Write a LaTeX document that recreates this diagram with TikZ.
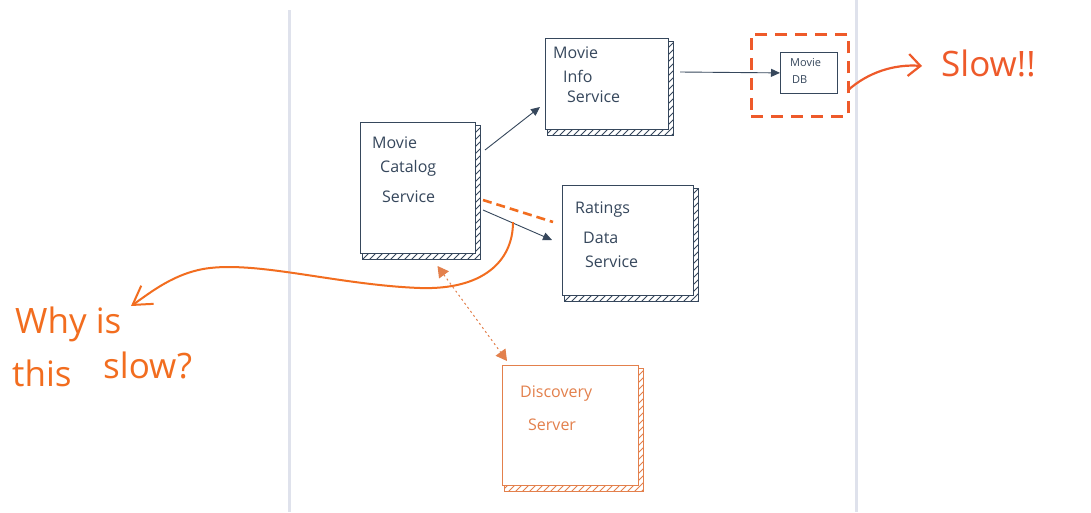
\documentclass[tikz,border=0pt]{standalone}
\usepackage{fontspec}
\setmainfont{Open Sans}
\usetikzlibrary{arrows.meta}
\definecolor{ink}{HTML}{36475C}
\definecolor{org}{HTML}{F26D1F}
\definecolor{orgred}{HTML}{EE5A2A}
\definecolor{orglt}{HTML}{E3804C}
\definecolor{page}{HTML}{DFE2EC}
\tikzset{
  lbl/.style={anchor=base west, inner sep=0pt, text=ink, font=\fontsize{16}{16}\selectfont},
  smalllbl/.style={anchor=base west, inner sep=0pt, text=ink, font=\fontsize{11}{11}\selectfont},
  handlbl/.style={anchor=base west, inner sep=0pt, text=org, font=\fontsize{35}{35}\selectfont},
  inkarrow/.style={ink, line width=0.9pt, -{Triangle[length=9pt,width=8pt]}},
}
% name, x, y, w, h, colour
\newcommand\servicebox[6]{%
  \node[draw=#6, line width=0.9pt, inner sep=0pt, outer sep=0pt,
        minimum width=#4pt, minimum height=#5pt, anchor=north west] (#1) at (#2,#3) {};
  \begin{scope}
    \clip (#2+#4,#3+3) -- (#2+#4+5,#3+3) -- (#2+#4+5,#3+#5+6) -- (#2+2,#3+#5+6)
          -- (#2+2,#3+#5) -- (#2+#4,#3+#5) -- cycle;
    \pgfmathtruncatemacro\hatchn{(#4+#5+30)/7}
    \foreach \k in {0,...,\hatchn}{
      \draw[#6, line width=0.8pt] (#2-#5-10+7*\k,#3+#5+10) -- ++(#5+20,-#5-20);
    }
  \end{scope}
  \draw[#6, line width=0.9pt] (#2+#4,#3+3) -- (#2+#4+5,#3+3) -- (#2+#4+5,#3+#5+6)
        -- (#2+2,#3+#5+6) -- (#2+2,#3+#5);
}
\begin{document}
\begin{tikzpicture}[x=1pt, y=-1pt]
\useasboundingbox (0,0) rectangle (1091,512);
\fill[white] (0,0) rectangle (1091,512);
% page edges
\draw[page, line width=3pt] (289,10) -- (289,512);
\draw[page, line width=3pt] (856,0) -- (856,512);

% boxes
\servicebox{cat}{360}{122}{115}{131}{ink}
\servicebox{info}{545}{38}{123}{91}{ink}
\servicebox{rat}{562}{185}{131}{110}{ink}
\servicebox{disc}{502}{365}{136}{120}{orglt}
\node[draw=ink, line width=0.8pt, inner sep=0pt, minimum width=57pt, minimum height=41pt,
      anchor=north west] (db) at (780,52) {};
\node[draw=orgred, line width=2.6pt, dash pattern=on 12pt off 8pt, inner sep=0pt,
      minimum width=97pt, minimum height=82pt, anchor=north west] (dbzone) at (750,33) {};

% labels
\node[lbl] (catl1) at (372,148) {Movie};
\node[lbl] (catl2) at (380,172) {Catalog};
\node[lbl] (catl3) at (382,202) {Service};
\node[lbl] (infol1) at (553,58) {Movie};
\node[lbl] (infol2) at (563,82) {Info};
\node[lbl] (infol3) at (567,102) {Service};
\node[lbl] (ratl1) at (575,213) {Ratings};
\node[lbl] (ratl2) at (583,243) {Data};
\node[lbl] (ratl3) at (585,267) {Service};
\node[lbl, text=orglt] (discl1) at (520,397) {Discovery};
\node[lbl, text=orglt] (discl2) at (528,430) {Server};
\node[smalllbl] (dbl1) at (790,66) {Movie};
\node[smalllbl] (dbl2) at (792,83) {DB};

% connectors
\draw[inkarrow] ([shift={(10,28)}]cat.north east) -- ([shift={(-5,-22)}]info.south west);
\draw[inkarrow] ([shift={(12,34)}]info.north east) -- (db.west);
\draw[inkarrow] ([shift={(8,88)}]cat.north east) -- ([shift={(-10,55)}]rat.north west);
\draw[org, line width=2.6pt, dash pattern=on 9pt off 5pt]
  ([shift={(8,78)}]cat.north east) -- ([shift={(-9,37)}]rat.north west);
\draw[orglt, line width=1pt, dash pattern=on 2pt off 3pt,
      {Triangle[length=11pt,width=12pt]}-{Triangle[length=11pt,width=12pt]}]
  ([shift={(20,13)}]cat.south) -- ([shift={(5,-4)}]disc.north west);

% annotations
\coordinate (whytip) at (131,306);
\draw[org, line width=2pt, -{Straight Barb[length=18pt,width=22pt]}]
  ([shift={(-49,37)}]rat.north west) .. controls (513,262) and (482,290) .. (420,288)
  .. controls (340,285) and (262,262) .. (210,268)
  .. controls (175,272) and (150,293) .. (whytip);
\node[handlbl] (why1) at (15,333) {Why is};
\node[handlbl] (why2) at (12,386) {this};
\node[handlbl] (why3) at (103,378) {slow?};

\coordinate (slowtip) at (922,66);
\draw[orgred, line width=2.2pt, -{Straight Barb[length=12pt,width=22pt]}]
  ([shift={(-2,-27)}]dbzone.south east) .. controls (868,72) and (895,64) .. (slowtip);
\node[handlbl, text=orgred, font=\fontsize{35}{35}\selectfont] (slow) at (941,76) {Slow!!};
\end{tikzpicture}
\end{document}
